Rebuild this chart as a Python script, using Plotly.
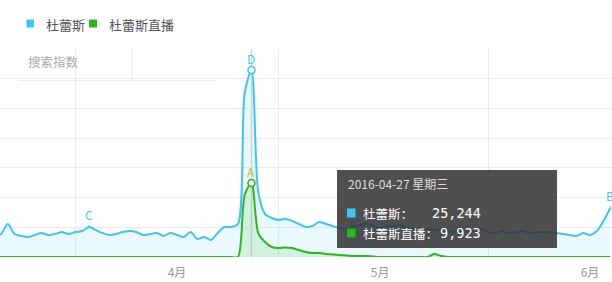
import pandas as pd
import plotly.graph_objects as go

# ---------------- data ----------------
series_names = ["杜蕾斯", "杜蕾斯直播"]
dates = pd.date_range("2016-03-05", "2016-06-04", freq="D")  # 92 days

blue_values = [
    10100, 11600, 16650, 11600, 10600, 10100, 11100, 12100, 11100, 11600,
    12600, 11600, 12600, 13100, 15150, 13600, 12100, 11100, 11600, 12600,
    13100, 12600, 11100, 11600, 12100, 10600, 12100, 11100, 10100, 12600,
    9100, 10100, 8600, 12100, 15150, 15150, 16650, 82800, 94400, 32800,
    21700, 19700, 18700, 19200, 18200, 16650, 15150, 15650, 17650, 16650,
    15650, 14650, 14150, 15150, 16150, 17150, 15650, 14650, 15650, 15650,
    16150, 14650, 14150, 13650, 14150, 13650, 13650, 13100, 12600, 13100,
    13650, 13100, 14150, 12600, 12100, 13100, 12100, 12600, 13100, 12100,
    12600, 12600, 12600, 12100, 11600, 11100, 10600, 12100, 11100, 13100,
    18200, 24750,
]
green_values = [
    0, 0, 0, 0, 0, 0, 0, 0, 0, 0,
    0, 0, 0, 0, 0, 0, 0, 0, 0, 0,
    0, 0, 0, 0, 0, 0, 0, 0, 0, 0,
    0, 0, 0, 0, 0, 0, 0, 31300, 37350, 12100,
    7570, 5050, 4540, 4800, 4540, 3530, 2520, 2020, 2020, 1510,
    1260, 1010, 760, 500, 500, 500, 250, 0, 0, 0,
    0, 0, 0, 0, 0, 1500, 500, 0, 0, 0,
    0, 0, 0, 0, 0, 0, 0, 0, 0, 0,
    0, 0, 0, 0, 0, 0, 0, 0, 0, 0,
    0, 0,
]

x_tick_vals = ["2016-04-01", "2016-05-01", "2016-06-01"]
x_tick_text = ["4月", "5月", "6月"]
x_grid_vals = ["2016-03-17", "2016-04-16", "2016-05-17"]

event_labels = ["C", "D", "A", "B"]
event_dates = ["2016-03-19", "2016-04-12", "2016-04-12", "2016-06-04"]
event_series = [0, 0, 1, 0]
event_style = ["stem", "circle", "circle", "stem"]

tooltip_title = "2016-04-27 星期三"
tooltip_values = ["25,244", "9,923"]
y_axis_name = "搜索指数"

# ---------------- style ----------------
W, H = 612, 282
T, B = 49, 25
BLUE = "#3ec5f3"
GREEN = "#27b919"
COLORS = [BLUE, GREEN]
GRID = "#ececec"
CJK = "Noto Sans CJK SC"


def px(x):
    return x / W


def py(y):
    return (H - B - y) / (H - T - B)


fig = go.Figure()
fig.add_trace(go.Scatter(
    x=dates, y=blue_values, mode="lines", name=series_names[0],
    line=dict(color=BLUE, width=2, shape="spline", smoothing=0.8),
    fill="tozeroy", fillcolor="rgba(62,197,243,0.10)", hoverinfo="skip"))
fig.add_trace(go.Scatter(
    x=dates, y=green_values, mode="lines", name=series_names[1],
    line=dict(color=GREEN, width=2, shape="spline", smoothing=0.8),
    fill="tozeroy", fillcolor="rgba(39,185,25,0.13)", hoverinfo="skip"))

series = [blue_values, green_values]
date_list = [d.strftime("%Y-%m-%d") for d in dates]

circ_x, circ_y, circ_c = [], [], []
annotations = []
for lab, d, s, st in zip(event_labels, event_dates, event_series, event_style):
    v = series[s][date_list.index(d)]
    col = COLORS[s] if lab != "A" else "#b0c431"
    if st == "circle":
        circ_x.append(d)
        circ_y.append(v)
        circ_c.append(COLORS[s])
        annotations.append(dict(x=d, y=v, xref="x", yref="y", text=lab, showarrow=False,
                                yanchor="middle", yshift=12,
                                font=dict(family=CJK, size=12, color=col)))
    else:
        annotations.append(dict(x=d, y=v, xref="x", yref="y", text=lab, showarrow=True,
                                arrowhead=0, arrowwidth=1, arrowcolor=COLORS[s], ax=0, ay=-12,
                                standoff=0, font=dict(family=CJK, size=12, color=COLORS[s])))

fig.add_trace(go.Scatter(
    x=circ_x, y=circ_y, mode="markers", hoverinfo="skip",
    marker=dict(size=7, color="white", line=dict(color=circ_c, width=1.6))))

shapes = []
# peak marker line
shapes.append(dict(type="line", xref="x", yref="paper", x0=event_dates[1], x1=event_dates[1],
                   y0=0, y1=1, line=dict(color="#d8d8d8", width=1.5), layer="between"))
# y-axis name box
shapes.append(dict(type="rect", xref="paper", yref="paper", x0=px(18), x1=px(216),
                   y0=py(81), y1=py(50), fillcolor="white", line=dict(width=0), layer="between"))
shapes.append(dict(type="line", xref="paper", yref="paper", x0=px(18), x1=px(216),
                   y0=py(80.5), y1=py(80.5), line=dict(color=GRID, width=1), layer="between"))
shapes.append(dict(type="line", xref="paper", yref="paper", x0=px(132), x1=px(132),
                   y0=py(80.5), y1=py(49), line=dict(color=GRID, width=1), layer="between"))


def note(x, y, text, size, color, family=CJK, xanchor="left"):
    annotations.append(dict(x=px(x), y=py(y), xref="paper", yref="paper", text=text,
                            showarrow=False, xanchor=xanchor, yanchor="middle",
                            font=dict(family=family, size=size, color=color)))


# legend
legend_sq = [(26.5, 34), (89, 97)]
legend_tx = [44, 107]
for i in range(2):
    shapes.append(dict(type="rect", xref="paper", yref="paper",
                       x0=px(legend_sq[i][0]), x1=px(legend_sq[i][1]),
                       y0=py(27.5), y1=py(19.5), fillcolor=COLORS[i], line=dict(width=0)))
    note(legend_tx[i], 25, series_names[i], 13, "#555555")

note(26, 61, y_axis_name, 12.5, "#aaaaaa")

# tooltip
shapes.append(dict(type="rect", xref="paper", yref="paper", x0=px(337), x1=px(557),
                   y0=py(248), y1=py(170), fillcolor="rgba(50,50,50,0.86)",
                   line=dict(width=0), layer="above"))
note(346, 183.5, tooltip_title, 12, "#dddddd")
row_y = [213, 233]
for i in range(2):
    shapes.append(dict(type="rect", xref="paper", yref="paper", x0=px(347), x1=px(355.5),
                       y0=py(row_y[i] + 4.5), y1=py(row_y[i] - 4.5),
                       fillcolor=COLORS[i], line=dict(width=0), layer="above"))
    note(361, row_y[i], series_names[i] + "：", 12.5, "white")
    note(483, row_y[i], tooltip_values[i], 13.5, "white", family="DejaVu Sans Mono", xanchor="right")

fig.update_layout(
    width=W, height=H, margin=dict(l=0, r=0, t=T, b=B),
    paper_bgcolor="white", plot_bgcolor="white", showlegend=False, hovermode=False,
    shapes=shapes, annotations=annotations,
    xaxis=dict(type="date", range=["2016-03-05 20:31", "2016-06-04 06:00"],
               tickmode="array", tickvals=x_tick_vals, ticktext=x_tick_text,
               showgrid=False, zeroline=False, showline=False,
               ticks="outside", ticklen=5, tickcolor="rgba(0,0,0,0)",
               tickfont=dict(family=CJK, size=12, color="#999999"),
               minor=dict(tickmode="array", tickvals=x_grid_vals, showgrid=True,
                          gridcolor=GRID, gridwidth=1, ticks="")),
    yaxis=dict(range=[0, 105000], tick0=0, dtick=15000, showticklabels=False,
               gridcolor=GRID, gridwidth=1, zeroline=False, showline=False),
)

fig.write_html("out.html")
